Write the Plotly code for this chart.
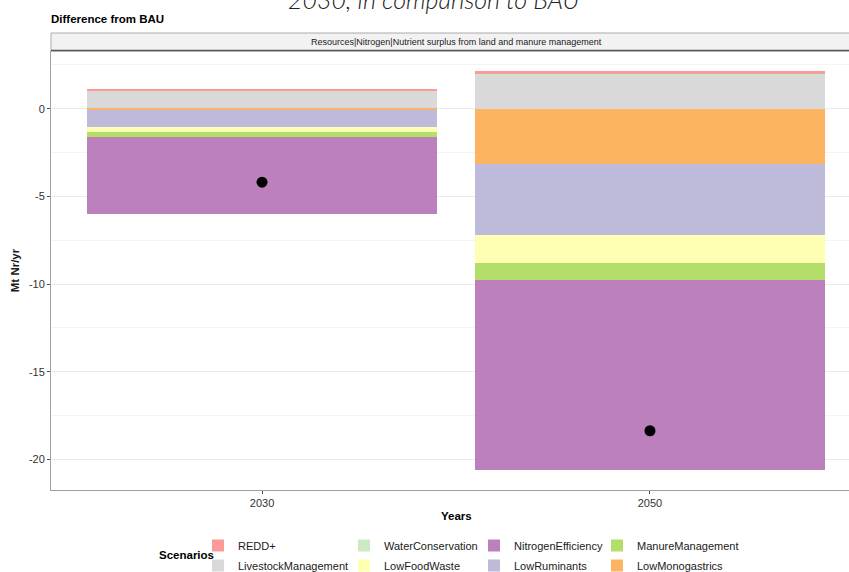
import plotly.graph_objects as go

# --- data -----------------------------------------------------------------
years = ["2030", "2050"]

livestock_management = [1.01, 1.95]
water_conservation = [0.0, 0.03]
redd_plus = [0.10, 0.17]
low_monogastrics = [-0.10, -3.14]
low_ruminants = [-0.94, -4.08]
low_food_waste = [-0.27, -1.56]
manure_management = [-0.30, -0.99]
nitrogen_efficiency = [-4.40, -10.86]

combined_total = [-4.19, -18.37]

y_tick_values = [-20, -15, -10, -5, 0]
y_tick_labels = ["-20", "-15", "-10", "-5", "0"]
y_minor_values = [-17.5, -12.5, -7.5, -2.5, 2.5]

# --- figure geometry (pixels) ---------------------------------------------
W, H = 849, 572
PL, PT, PB = 51, 51, 490          # plot area left / top / bottom
PW = W - PL
PH = PB - PT


def px_x(px):
    return (px - PL) / PW


def px_y(py):
    return (PB - py) / PH


FONT = "Liberation Sans, Arial, sans-serif"

# (name, values, colour, legend id, rank inside that legend column)
series = [
    ("LivestockManagement", livestock_management, "#D9D9D9", "legend", 2),
    ("WaterConservation", water_conservation, "#CCEBC5", "legend2", 1),
    ("REDD+", redd_plus, "#FB9A99", "legend", 1),
    ("LowMonogastrics", low_monogastrics, "#FDB462", "legend4", 2),
    ("LowRuminants", low_ruminants, "#BEBADA", "legend3", 2),
    ("LowFoodWaste", low_food_waste, "#FFFFB3", "legend2", 2),
    ("ManureManagement", manure_management, "#B3DE69", "legend4", 1),
    ("NitrogenEfficiency", nitrogen_efficiency, "#BC80BD", "legend3", 1),
]

fig = go.Figure()
for name, vals, color, leg, rank in series:
    fig.add_trace(go.Bar(
        x=years, y=vals, name=name, width=0.9,
        marker=dict(color=color, line=dict(width=0)),
        legend=leg, legendrank=rank, legendgroup=name,
    ))

fig.add_trace(go.Scatter(
    x=years, y=combined_total, mode="markers",
    marker=dict(color="black", size=11),
    showlegend=False,
))

legend_text_x = [238, 384, 514, 637]
legend_common = dict(
    orientation="v", xref="paper", yref="paper", xanchor="left", yanchor="top",
    y=px_y(531), font=dict(family=FONT, size=11, color="#1A1A1A"),
    bgcolor="rgba(0,0,0,0)", borderwidth=0, tracegroupgap=1,
    itemclick=False, itemdoubleclick=False,
)
legends = {}
for i, tx in enumerate(legend_text_x):
    key = "legend" if i == 0 else f"legend{i + 1}"
    legends[key] = dict(legend_common, x=px_x(tx - 40))

fig.update_layout(
    width=W, height=H,
    margin=dict(l=PL, r=0, t=PT, b=H - PB, autoexpand=False),
    paper_bgcolor="white", plot_bgcolor="white",
    barmode="relative", bargap=0,
    showlegend=True,
    font=dict(family=FONT, size=11, color="#1A1A1A"),
    xaxis=dict(
        type="category", range=[-0.544, 1.513],
        showgrid=False, zeroline=False,
        showline=True, linecolor="#A0A0A0", linewidth=1,
        ticks="outside", ticklen=3, tickcolor="#4D4D4D",
        tickfont=dict(family=FONT, size=11, color="#333333"),
    ),
    yaxis=dict(
        range=[-21.75, 3.29],
        tickvals=y_tick_values, ticktext=y_tick_labels,
        showgrid=True, gridcolor="#EBEBEB", gridwidth=1,
        zeroline=False,
        showline=True, linecolor="#A0A0A0", linewidth=1,
        ticks="outside", ticklen=3, tickcolor="#4D4D4D",
        tickfont=dict(family=FONT, size=11, color="#333333"),
        minor=dict(tickvals=y_minor_values, showgrid=True,
                   gridcolor="#F4F4F4", gridwidth=1, ticks=""),
        title=dict(text="<b>Mt Nr/yr</b>", font=dict(family=FONT, size=11.5, color="#1A1A1A"),
                   standoff=6),
    ),
    **legends,
)

# facet strip above the panel
fig.add_shape(type="rect", xref="paper", yref="paper",
              x0=0, x1=1.02, y0=px_y(51), y1=px_y(33),
              fillcolor="#F2F2F2", line=dict(color="#AAAAAA", width=1), layer="above")
fig.add_shape(type="line", xref="paper", yref="paper",
              x0=0, x1=1.02, y0=px_y(50.5), y1=px_y(50.5),
              line=dict(color="#555555", width=1.5), layer="above")

annotations = [
    dict(text="Resources|Nitrogen|Nutrient surplus from land and manure management",
         x=px_x(456), y=px_y(42), xanchor="center", yanchor="middle",
         font=dict(family=FONT, size=9, color="#1A1A1A")),
    dict(text="<b>Difference from BAU</b>",
         x=px_x(49), y=px_y(19), xanchor="left", yanchor="middle",
         font=dict(family=FONT, size=11.5, color="#000000")),
    dict(text="<i>2030, in comparison to BAU</i>",
         x=px_x(434), y=px_y(-1), xanchor="center", yanchor="middle",
         font=dict(family="Lato, Open Sans, sans-serif", size=25, color="#222222", weight=300)),
    dict(text="<b>Years</b>",
         x=px_x(456), y=px_y(516), xanchor="center", yanchor="middle",
         font=dict(family=FONT, size=11.5, color="#000000")),
    dict(text="<b>Scenarios</b>",
         x=px_x(157), y=px_y(555), xanchor="left", yanchor="middle",
         font=dict(family=FONT, size=11.5, color="#000000")),
]
for a in annotations:
    fig.add_annotation(xref="paper", yref="paper", showarrow=False, **a)

fig.write_html("out.html")
